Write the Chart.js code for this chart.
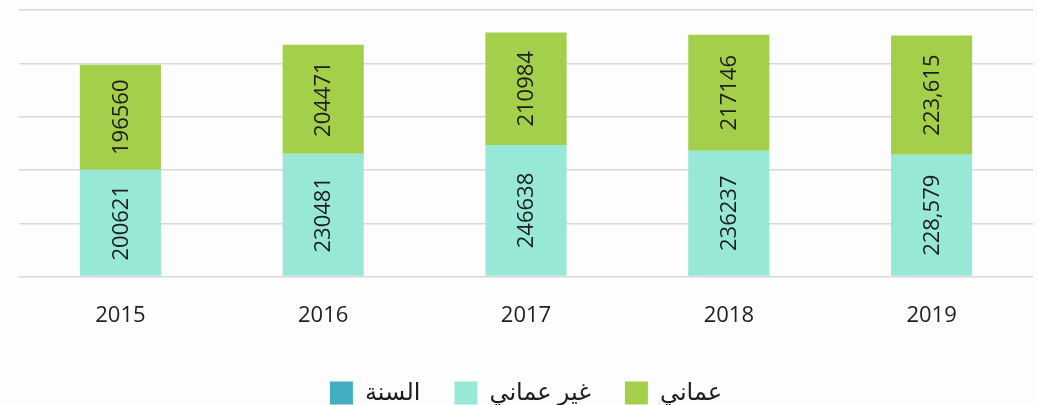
<!DOCTYPE html>
<html lang="ar">
  <head>
    <meta charset="UTF-8">
    <title>Omani / non-Omani by year</title>
    <script src="https://cdn.jsdelivr.net/npm/chart.js"></script>
    <style>
      html, body { margin: 0; padding: 0; background: #fdfdfd; }
      .wrap { width: 1037px; height: 405px; }
    </style>
  </head>
  <body>
    <div class="wrap">
      <canvas id="myChart" width="1037" height="405"></canvas>
    </div>

    <script>
      // data
      const years = ['2015', '2016', '2017', '2018', '2019'];
      const nonOmani = [200621, 230481, 246638, 236237, 228579];
      const omani = [196560, 204471, 210984, 217146, 223615];
      // labels as printed on the bars (2019 has thousands separators)
      const nonOmaniLabels = ['200621', '230481', '246638', '236237', '228,579'];
      const omaniLabels = ['196560', '204471', '210984', '217146', '223,615'];
      const yTicks = [0, 100000, 200000, 300000, 400000, 500000];

      // small plugin to write the value rotated inside each bar
      const barText = {
        id: 'barText',
        afterDatasetsDraw(chart) {
          const c = chart.ctx;
          chart.data.datasets.forEach((ds, i) => {
            if (!ds.printed) return;
            const meta = chart.getDatasetMeta(i);
            meta.data.forEach((bar, j) => {
              const mid = (bar.y + bar.base) / 2;
              c.save();
              c.translate(bar.x, mid);
              c.rotate(-Math.PI / 2);
              c.font = '22px "Open Sans", sans-serif';
              c.fillStyle = '#1e1e1e';
              c.textAlign = 'center';
              c.textBaseline = 'middle';
              c.fillText(ds.printed[j], 0, 1);
              c.restore();
            });
          });
        }
      };

      // legend reads left to right: السنة, غير عماني, عماني
      const legendRank = { 'السنة': 0, 'غير عماني': 1, 'عماني': 2 };

      new Chart(document.getElementById('myChart'), {
        type: 'bar',
        data: {
          labels: years,
          datasets: [
            {
              label: 'غير عماني',
              data: nonOmani,
              printed: nonOmaniLabels,
              backgroundColor: '#98e8d7',
              categoryPercentage: 1,
              barPercentage: 0.4
            },
            {
              label: 'عماني',
              data: omani,
              printed: omaniLabels,
              backgroundColor: '#a3cf4b',
              categoryPercentage: 1,
              barPercentage: 0.4
            },
            {
              label: 'السنة',
              data: [],
              backgroundColor: '#43aebf',
              categoryPercentage: 1,
              barPercentage: 0.4
            }
          ]
        },
        options: {
          responsive: false,
          animation: false,
          layout: { padding: { left: 19, right: 4, top: 10, bottom: -10 } },
          plugins: {
            tooltip: { enabled: false },
            legend: {
              position: 'bottom',
              labels: {
                font: { size: 24, family: '"Noto Sans", "DejaVu Sans", sans-serif' },
                color: '#1e1e1e',
                boxWidth: 23,
                boxHeight: 23,
                padding: 34,
                sort: (a, b) => legendRank[a.text] - legendRank[b.text]
              }
            }
          },
          scales: {
            x: {
              stacked: true,
              grid: { display: false },
              border: { display: false },
              ticks: {
                color: '#1e1e1e',
                font: { size: 22, family: '"Open Sans", sans-serif' },
                padding: 18
              }
            },
            y: {
              stacked: true,
              min: 0,
              max: 500000,
              afterBuildTicks: (axis) => { axis.ticks = yTicks.map(v => ({ value: v })); },
              ticks: { display: false },
              border: { display: false },
              grid: { color: '#d9d9d9', lineWidth: 1.5, drawTicks: false }
            }
          }
        },
        plugins: [barText]
      });
    </script>
  </body>
</html>
